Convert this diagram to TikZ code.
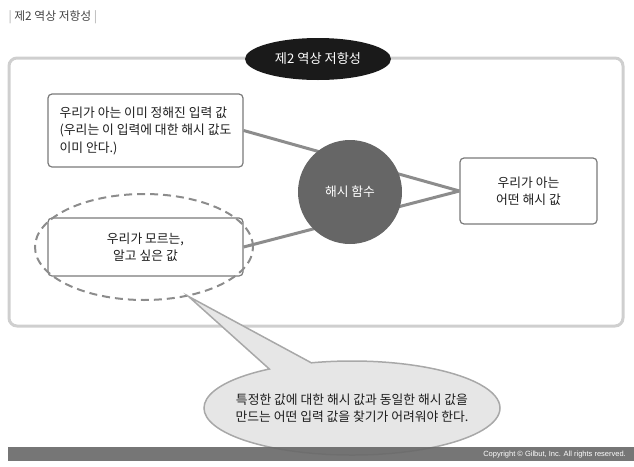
\documentclass[tikz,border=0pt]{standalone}
\usepackage{fontspec}
\setmainfont{Noto Sans CJK KR}
\newfontfamily\latinsans{Liberation Sans}
\usetikzlibrary{shapes.geometric,shapes.callouts}
\definecolor{framegray}{HTML}{CFCFCF}
\definecolor{boxgray}{HTML}{7A7A7A}
\definecolor{linkgray}{HTML}{8C8C8C}
\definecolor{hashgray}{HTML}{666666}
\definecolor{titleblack}{HTML}{1A1A1A}
\definecolor{calloutfill}{HTML}{E6E6E6}
\definecolor{calloutline}{HTML}{A8A8A8}
\definecolor{bargray}{HTML}{6A6A6A}
\definecolor{textdark}{HTML}{1E1E1E}
\definecolor{headgray}{HTML}{444444}
\definecolor{pipegray}{HTML}{AAAAAA}
\begin{document}
\begin{tikzpicture}[x=1pt, y=-1pt,
    txt/.style={font=\fontsize{12.8}{17.5}\selectfont},
    infobox/.style={txt, draw=boxgray, line width=1.2pt, rounded corners=4pt, fill=white, inner sep=0pt, text=textdark},
    link/.style={draw=linkgray, line width=3pt}]
    \useasboundingbox (0,0) rectangle (634,466);
    \node (header) [anchor=west, font=\fontsize{11.8}{13}\selectfont, text=headgray] at (5,17) {\textcolor{pipegray}{|} 제2 역상 저항성 \textcolor{pipegray}{|}};
    \draw [framegray, line width=3pt, rounded corners=8pt] (9,58) rectangle (623,326);
    \node (title) [font=\fontsize{13.2}{15}\selectfont, ellipse, fill=titleblack, text=white, minimum width=146pt, minimum height=42pt, inner sep=0pt] at (318,59) {제2 역상 저항성};
    \node (known) [infobox, minimum width=195pt, minimum height=73pt, align=left] at (145.5,130.5) {우리가 아는 이미 정해진 입력 값\\(우리는 이 입력에 대한 해시 값도\\이미 안다.)};
    \node (unknown) [infobox, minimum width=195pt, minimum height=58pt, align=center] at (145.5,247) {우리가 모르는,\\알고 싶은 값};
    \node (ring) [ellipse, draw=linkgray, line width=2pt, dash pattern=on 8pt off 5pt, minimum width=218pt, minimum height=106pt] at (144,247) {};
    \node (hashout) [infobox, minimum width=137pt, minimum height=66pt, align=center] at (528.5,191) {우리가 아는\\어떤 해시 값};
    \draw [link] (known.east) -- (hashout.west);
    \draw [link] (unknown.east) -- (hashout.west);
    \node (hash) [txt, circle, fill=hashgray, text=white, minimum size=104pt, inner sep=0pt] at (350,192) {해시 함수};
    \node (note) [txt, ellipse callout, callout absolute pointer={(ring.-48)}, callout pointer arc=18, fill=calloutfill, draw=calloutline, line width=1.5pt, minimum width=296pt, minimum height=94pt, inner xsep=-13pt, inner ysep=0pt, align=center, text=textdark] at (352,408) {특정한 값에 대한 해시 값과 동일한 해시 값을\\만드는 어떤 입력 값을 찾기가 어려워야 한다.};
    \fill [bargray, fill opacity=0.92] (8,447) rectangle (634,461);
    \node (copyright) [anchor=east, font=\latinsans\fontsize{7.5}{9}\selectfont, text=white, inner sep=0pt] at (626,455) {Copyright © Gilbut, Inc. All rights reserved.};
\end{tikzpicture}
\end{document}
